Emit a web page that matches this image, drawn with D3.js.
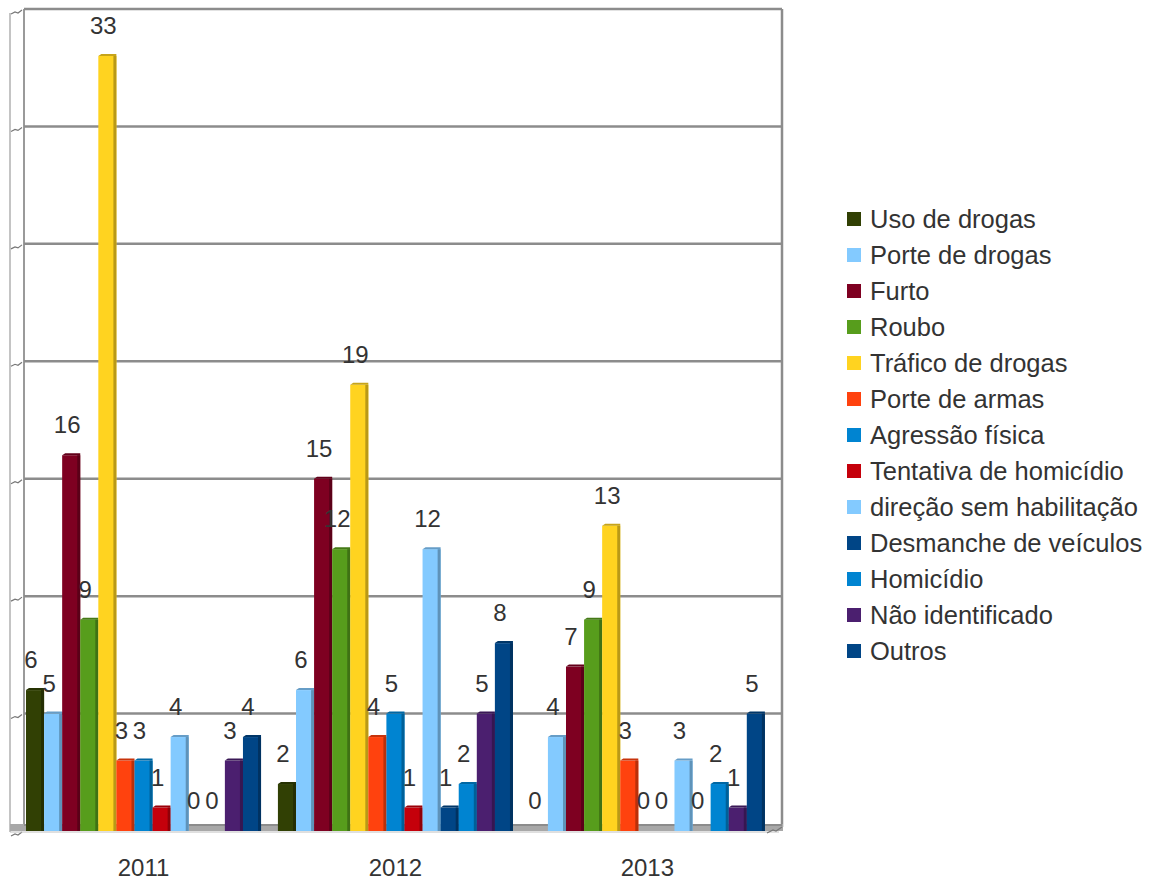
<!DOCTYPE html>
<html>
<head>
<meta charset="utf-8">
<script src="https://cdn.jsdelivr.net/npm/d3@7"></script>
<style>
  body { margin: 0; background: #fff; }
  text { font-family: "Liberation Sans", Arial, sans-serif; fill: #333; }
</style>
</head>
<body>
<svg id="chart"></svg>
<script>
// data
let years = ["2011", "2012", "2013"]
let categories = ["Uso de drogas", "Porte de drogas", "Furto", "Roubo", "Tráfico de drogas",
  "Porte de armas", "Agressão física", "Tentativa de homicídio", "direção sem habilitação",
  "Desmanche de veículos", "Homicídio", "Não identificado", "Outros"]
let colors = ["#314004", "#83caff", "#7e0021", "#579d1c", "#ffd320", "#ff420e", "#0084d1",
  "#c5000b", "#83caff", "#004586", "#0084d1", "#4b1f6f", "#004586"]
let values2011 = [6, 5, 16, 9, 33, 3, 3, 1, 4, 0, 0, 3, 4]
let values2012 = [2, 6, 15, 12, 19, 4, 5, 1, 12, 1, 2, 5, 8]
let values2013 = [0, 4, 7, 9, 13, 3, 0, 0, 3, 0, 2, 1, 5]
let yTicks = [0, 5, 10, 15, 20, 25, 30, 35]

let byYear = [values2011, values2012, values2013]
let bars = []
years.forEach((yr, j) => {
  categories.forEach((c, i) => bars.push({ year: yr, cat: c, color: colors[i], value: byYear[j][i] }))
})

let width = 1152, height = 882
let plotLeft = 26, plotRight = 781, plotTop = 9, base = 831
let depth = 3

let svg = d3.select("#chart").attr("width", width).attr("height", height)

let x0 = d3.scaleBand().domain(years).range([plotLeft, plotRight])
  .paddingInner(0.067).paddingOuter(0.032).align(0)
let x1 = d3.scaleBand().domain(categories).range([0, x0.bandwidth()])
let y = d3.scaleLinear().domain([0, 35]).range([base, plotTop])

//walls and gridlines
let grid = svg.append("g")
grid.append("line").attr("x1", 10).attr("x2", 10).attr("y1", plotTop + 4).attr("y2", base + 1)
  .attr("stroke", "#b0b0b0").attr("stroke-width", 1.5)
grid.append("line").attr("x1", 24).attr("x2", 24).attr("y1", plotTop).attr("y2", base)
  .attr("stroke", "#9a9a9a").attr("stroke-width", 2)
grid.selectAll(".gl").data(yTicks.filter(d => d > 0)).enter().append("line")
  .attr("x1", 24).attr("x2", plotRight + 1)
  .attr("y1", d => y(d)).attr("y2", d => y(d))
  .attr("stroke", "#8c8c8c").attr("stroke-width", 2.5)
grid.selectAll(".tk").data(yTicks).enter().append("path")
  .attr("d", d => `M11,${y(d) + 5} L15,${y(d) + 3} L18,${y(d) + 4} L22,${y(d) + 1}`)
  .attr("fill", "none").attr("stroke", "#777").attr("stroke-width", 1.2)
grid.append("line").attr("x1", plotRight + 1).attr("x2", plotRight + 1).attr("y1", plotTop).attr("y2", base - 4)
  .attr("stroke", "#8c8c8c").attr("stroke-width", 2.5)

//floor
grid.append("rect").attr("x", 10).attr("y", base - 7).attr("width", plotRight - 8).attr("height", 7)
  .attr("fill", "#a8a8a8")
grid.append("line").attr("x1", 24).attr("x2", plotRight + 1).attr("y1", base - 6).attr("y2", base - 6)
  .attr("stroke", "#8c8c8c").attr("stroke-width", 2)
grid.append("line").attr("x1", 10).attr("x2", plotRight - 2).attr("y1", base + 1).attr("y2", base + 1)
  .attr("stroke", "#c0c0c0").attr("stroke-width", 1)
grid.append("path").attr("d", `M${plotRight - 14},${base + 2} L${plotRight - 8},${base - 1} L${plotRight - 5},${base} L${plotRight + 1},${base - 4}`)
  .attr("fill", "none").attr("stroke", "#777").attr("stroke-width", 1.2)

//bars
let bw = x1.bandwidth()
let g = svg.append("g")
let barG = g.selectAll(".bar").data(bars.filter(d => d.value > 0)).enter().append("g")
  .attr("transform", d => `translate(${x0(d.year) + x1(d.cat)},0)`)

barG.append("rect")
  .attr("x", 0).attr("y", d => y(d.value))
  .attr("width", bw).attr("height", d => base - y(d.value))
  .attr("fill", d => d.color)
barG.append("rect")
  .attr("x", bw - depth).attr("y", d => y(d.value))
  .attr("width", depth).attr("height", d => base - y(d.value))
  .attr("fill", d => d3.color(d.color).darker(0.9))
barG.append("path")
  .attr("d", d => `M0,${y(d.value)} L${depth},${y(d.value) - depth + 1} L${bw},${y(d.value) - depth + 1} L${bw},${y(d.value)} Z`)
  .attr("fill", d => d3.color(d.color).darker(0.7))

//value labels
svg.append("g").selectAll("text").data(bars).enter().append("text")
  .attr("x", d => x0(d.year) + x1(d.cat) + bw / 2 - 4)
  .attr("y", d => y(d.value) - 22)
  .attr("text-anchor", "middle")
  .style("font-size", "24px")
  .text(d => d.value)

//year labels
svg.append("g").selectAll("text").data(years).enter().append("text")
  .attr("x", d => x0(d) + x0.bandwidth() / 2)
  .attr("y", 876)
  .attr("text-anchor", "middle")
  .style("font-size", "24px")
  .text(d => d)

//legend
let legend = svg.append("g").selectAll("g").data(categories).enter().append("g")
  .attr("transform", (d, i) => `translate(847, ${219 + i * 36})`)
legend.append("rect").attr("x", 0).attr("y", -7).attr("width", 14).attr("height", 14)
  .attr("fill", (d, i) => colors[i])
legend.append("text").attr("x", 23).attr("y", 9)
  .style("font-size", "25.5px")
  .text(d => d)
</script>
</body>
</html>
